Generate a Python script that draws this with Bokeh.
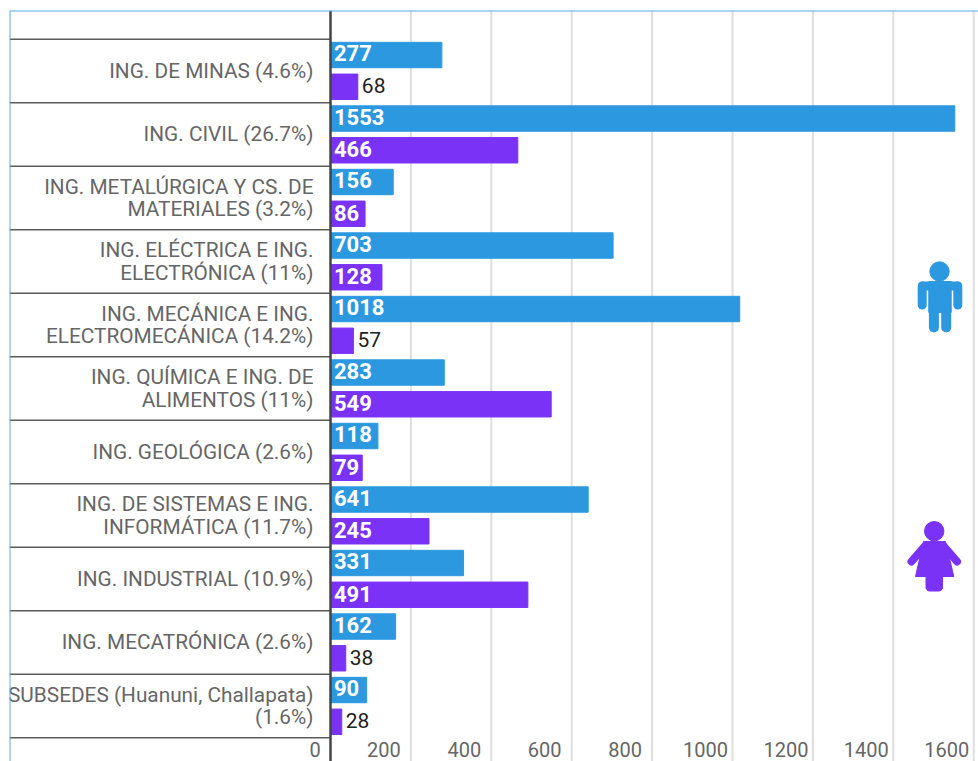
from bokeh.plotting import figure
from bokeh.models import Range1d, FixedTicker, Span, LinearAxis
from bokeh.core.properties import value
from bokeh.embed import file_html
from bokeh.resources import INLINE

categories = ["ING. DE MINAS (4.6%)", "ING. CIVIL (26.7%)",
              "ING. METALÚRGICA Y CS. DE\nMATERIALES (3.2%)",
              "ING. ELÉCTRICA E ING.\nELECTRÓNICA (11%)",
              "ING. MECÁNICA E ING.\nELECTROMECÁNICA (14.2%)",
              "ING. QUÍMICA E ING. DE\nALIMENTOS (11%)",
              "ING. GEOLÓGICA (2.6%)",
              "ING. DE SISTEMAS E ING.\nINFORMÁTICA (11.7%)",
              "ING. INDUSTRIAL (10.9%)",
              "ING. MECATRÓNICA (2.6%)",
              "SUBSEDES (Huanuni, Challapata)\n(1.6%)"]
hombres = [277, 1553, 156, 703, 1018, 283, 118, 641, 331, 162, 90]
mujeres = [68, 466, 86, 128, 57, 549, 79, 245, 491, 38, 28]
x_ticks = [0, 200, 400, 600, 800, 1000, 1200, 1400, 1600]

BLUE, PURPLE, FONT, GREY = "#2c98e0", "#7a33f6", "Roboto", "#666666"
W, H = 978, 761
X0, PX_X = 330.0, 0.402      # pixel of value 0, px per unit
Y0, PX_Y = 70.4, 63.5        # pixel of first row centre, px per row
L, T, R, B = 9, 10, 978, 761

def fx(px): return (px - X0) / PX_X
def fy(py): return (py - Y0) / PX_Y

p = figure(width=W, height=H, output_backend="svg", toolbar_location=None,
           x_range=Range1d(fx(L), fx(R)), y_range=Range1d(fy(B), fy(T)),
           min_border_left=L, min_border_top=T, min_border_right=0, min_border_bottom=0,
           outline_line_color=None, background_fill_color="white")

n = len(categories)
rows = list(range(n))
p.grid.visible = False

# vertical grid
p.segment(x0=x_ticks[1:], x1=x_ticks[1:], y0=[fy(T)]*8, y1=[fy(B)]*8, line_color="#dedede", line_width=2)

# frame edges
p.add_layout(Span(location=fx(L), dimension="height", line_color="#5aaee0", line_width=2))
p.add_layout(Span(location=fy(T), dimension="width", line_color="#5aaee0", line_width=2))

# separators
seps = [i - 0.5 for i in range(n + 1)]
p.segment(x0=[fx(L)]*len(seps), x1=[0]*len(seps), y0=seps, y1=seps, line_color="#5a5a5a", line_width=1.5)

p.hbar(y=[r - 0.25 for r in rows], left=0, right=hombres, height=0.4, color=BLUE)
p.hbar(y=[r + 0.25 for r in rows], left=0, right=mujeres, height=0.4, color=PURPLE)

# value labels
THRESH = 70
for vals, off in ((hombres, -0.275), (mujeres, 0.235)):
    ins = [(v, r + off) for v, r in zip(vals, rows) if v >= THRESH]
    out = [(v, r + off) for v, r in zip(vals, rows) if v < THRESH]
    if ins:
        p.text(x=[0]*len(ins), y=[a[1] for a in ins], text=[str(a[0]) for a in ins], x_offset=3.5,
               text_font=value(FONT), text_font_size="22px", text_font_style="bold",
               text_color="white", text_baseline="middle", text_align="left")
    if out:
        p.text(x=[a[0] for a in out], y=[a[1] for a in out], text=[str(a[0]) for a in out], x_offset=4,
               text_font=value(FONT), text_font_size="21px",
               text_color="#222222", text_baseline="middle", text_align="left")

# y axis: one tick per label line, 22px apart
LINE = 0.175
overrides, ticks = {}, []
for r, c in zip(rows, categories):
    parts = c.split("\n")
    offs = [0.0] if len(parts) == 1 else [-LINE, LINE]
    for o, t in zip(offs, parts):
        ticks.append(r + o)
        overrides[r + o] = t

ya = p.yaxis[0]
ya.fixed_location = 0
ya.ticker = FixedTicker(ticks=ticks)
ya.major_label_overrides = overrides
ya.major_tick_line_color = None
ya.minor_tick_line_color = None
ya.axis_line_color = "#444444"
ya.axis_line_width = 2.5
ya.major_label_standoff = 11
ya.major_label_text_font = FONT
ya.major_label_text_font_size = "20.8px"
ya.major_label_text_color = GREY

# x axes: labels sit left of their gridlines, so they use ranges shifted in pixels
p.xaxis[0].visible = False
def x_axis(name, shift_px, tick_values):
    p.extra_x_ranges[name] = Range1d(fx(L + shift_px), fx(R + shift_px))
    a = LinearAxis(x_range_name=name, ticker=FixedTicker(ticks=tick_values), fixed_location=fy(733),
                   major_tick_line_color=None, minor_tick_line_color=None, axis_line_color=None,
                   major_label_standoff=2, major_label_text_font=FONT,
                   major_label_text_font_size="20px", major_label_text_color=GREY)
    p.add_layout(a, "below")

x_axis("zero", 15.5, x_ticks[:1])
x_axis("rest", 27, x_ticks[1:])

# icons
def seg(x0, y0, x1, y1, w, c):
    p.line(x=[fx(x0), fx(x1)], y=[fy(y0), fy(y1)], line_width=w, line_color=c, line_cap="round")

def head(cx, cy, r, c):
    p.circle(x=[fx(cx)], y=[fy(cy)], radius=r / PX_X, radius_dimension="x", color=c)

head(939, 271, 9.7, BLUE)
seg(922, 285.5, 957, 285.5, 9, BLUE)
seg(921.7, 285.5, 921.7, 304.5, 9, BLUE)
seg(957.3, 285.5, 957.3, 304.5, 9, BLUE)
p.patch(x=[fx(v) for v in (928.3, 950.7, 950.7, 928.3)], y=[fy(v) for v in (281, 281, 312, 312)], color=BLUE)
seg(933.4, 308, 933.4, 327, 10, BLUE)
seg(945.7, 308, 945.7, 327, 10, BLUE)

head(933.7, 530.7, 9.7, PURPLE)
seg(924, 546, 911, 561, 8, PURPLE)
seg(943.5, 546, 956.5, 561, 8, PURPLE)
p.patch(x=[fx(v) for v in (923, 945, 953.3, 915)], y=[fy(v) for v in (541, 541, 576, 576)], color=PURPLE)
seg(929.5, 587, 938, 587, 8, PURPLE)
p.patch(x=[fx(v) for v in (925.5, 942, 942, 925.5)], y=[fy(v) for v in (575, 575, 588, 588)], color=PURPLE)

open("out.html", "w").write(file_html(p, INLINE))
